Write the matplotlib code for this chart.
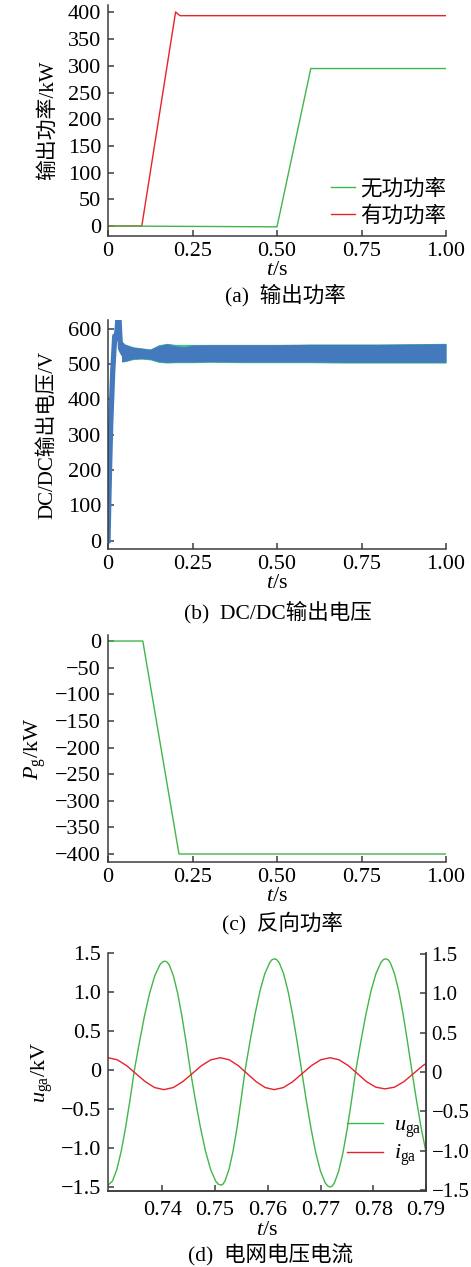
import matplotlib
matplotlib.use("Agg")
from matplotlib import pyplot as plt
from matplotlib.lines import Line2D

plt.rcParams['font.family'] = ['Liberation Serif', 'Noto Sans CJK SC']
plt.rcParams['mathtext.fontset'] = 'custom'
plt.rcParams['mathtext.rm'] = 'Liberation Serif'
plt.rcParams['mathtext.it'] = 'Liberation Serif:italic'

GREEN = '#41b649'
RED = '#e8212b'
BLUE = '#4479bd'
AXC = '#3c3c3c'
FS = 16

# (a) output power
q_t = [0, 0.50, 0.60, 1.00]
q_kw = [0, -1.5, 295, 295]
p_t = [0, 0.10, 0.200, 0.213, 1.00]
p_kw = [0, 0, 401, 394, 394]

# (b) DC/DC output voltage: start-up transient and the ripple band
dc_t = [0, 0.004, 0.008, 0.014, 0.020, 0.024, 0.028, 0.031, 0.034, 0.037, 0.040, 0.045]
dc_v = [0, 180, 330, 480, 580, 572, 610, 660, 600, 545, 538, 530]
band_t = [0.040, 0.05, 0.075, 0.10, 0.125, 0.15, 0.175, 0.20, 0.225, 0.25, 0.30,
          0.40, 0.50, 0.60, 0.70, 0.80, 0.90, 1.00]
band_hi = [566, 556, 548, 545, 542, 553, 558, 552, 549, 554, 555, 555, 555, 556, 556, 556, 557, 558]
band_lo = [507, 508, 515, 516, 514, 507, 505, 506, 506, 506, 507, 506, 506, 506, 505, 505, 505, 505]
fringe_hi = [566, 557, 549, 546, 543, 555, 559, 556, 556, 556, 556, 556, 556, 557, 557, 557, 558, 559]
fringe_lo = [506, 507, 513, 514, 512, 505, 503, 504, 504, 504, 505, 504, 504, 504, 503, 503, 503, 503]

# (c) reverse power
pg_t = [0, 0.103, 0.210, 1.00]
pg_kw = [0, 0, -400, -400]

# (d) grid voltage / current
u_t = [0.7297, 0.73053, 0.73137, 0.7322, 0.73303, 0.73387, 0.7347,
       0.73567, 0.73663, 0.7376, 0.73857, 0.73953, 0.7400, 0.7405,
       0.7409, 0.7413, 0.7421, 0.7429, 0.7437, 0.7445, 0.7453,
       0.74627, 0.74723, 0.7482, 0.74917, 0.75013, 0.7506, 0.7511,
       0.7515, 0.75187, 0.75263, 0.7534, 0.75417, 0.75493, 0.7557,
       0.75663, 0.75757, 0.7585, 0.75943, 0.76037, 0.7608, 0.7613,
       0.7617, 0.76215, 0.763, 0.76385, 0.7647, 0.76555, 0.7664,
       0.7673, 0.7682, 0.7691, 0.7700, 0.7709, 0.7714, 0.7718,
       0.7722, 0.77262, 0.77343, 0.77425, 0.77507, 0.77588, 0.7767,
       0.77765, 0.7786, 0.77955, 0.7805, 0.78145, 0.7819, 0.7824,
       0.7828, 0.78322, 0.78403, 0.78485, 0.78567, 0.78648, 0.7873,
       0.7882, 0.7891, 0.7900]
u_kv = [-1.475, -1.425, -1.277, -1.043, -0.738, -0.382, 0,
        0.363, 0.70, 0.99, 1.212, 1.352, 1.388, 1.40,
        1.388, 1.352, 1.212, 0.99, 0.70, 0.363, 0,
        -0.382, -0.738, -1.043, -1.277, -1.425, -1.463, -1.475,
        -1.463, -1.425, -1.277, -1.043, -0.738, -0.382, 0,
        0.370, 0.715, 1.011, 1.238, 1.381, 1.418, 1.43,
        1.418, 1.381, 1.238, 1.011, 0.715, 0.370, 0,
        -0.388, -0.75, -1.061, -1.299, -1.449, -1.488, -1.50,
        -1.488, -1.449, -1.299, -1.061, -0.75, -0.388, 0,
        0.370, 0.715, 1.011, 1.238, 1.381, 1.418, 1.43,
        1.418, 1.381, 1.238, 1.011, 0.715, 0.370, 0,
        -0.388, -0.75, -1.05]
i_t = [0.7297, 0.73147, 0.73323, 0.7350, 0.73677, 0.73853, 0.7403,
       0.74208, 0.74387, 0.74565, 0.74743, 0.74922, 0.7510,
       0.7527, 0.7544, 0.7561, 0.7578, 0.7595, 0.7612,
       0.76297, 0.76473, 0.7665, 0.76827, 0.77003, 0.7718,
       0.77353, 0.77527, 0.7770, 0.77873, 0.78047, 0.7822,
       0.7840, 0.7858, 0.7876, 0.7894, 0.7900]
i_ka = [0.16, 0.133, 0.058, -0.045, -0.148, -0.223, -0.25,
        -0.223, -0.148, -0.045, 0.058, 0.133, 0.16,
        0.133, 0.058, -0.045, -0.148, -0.223, -0.25,
        -0.223, -0.148, -0.045, 0.058, 0.133, 0.16,
        0.133, 0.058, -0.045, -0.148, -0.218, -0.24,
        -0.219, -0.148, -0.045, 0.058, 0.085]

t_ticks = [0, 0.25, 0.50, 0.75, 1.00]
t_labels = ['0', '0.25', '0.50', '0.75', '1.00']
d_ticks = [0.74, 0.75, 0.76, 0.77, 0.78, 0.79]
d_yticks = [-1.5, -1.0, -0.5, 0, 0.5, 1.0, 1.5]
d_ylabels = ['\u22121.5', '\u22121.0', '\u22120.5', '0', '0.5', '1.0', '1.5']

W, H = 471, 1267
fig = plt.figure(figsize=(W / 100, H / 100), dpi=100)


def box(l, t, r, b):
    return [l / W, 1 - b / H, (r - l) / W, (b - t) / H]


def style(ax, right=False):
    ax.spines['top'].set_visible(False)
    ax.spines['right'].set_visible(right)
    for s in ax.spines.values():
        s.set_linewidth(1.1)
        s.set_color(AXC)
    ax.tick_params(direction='in', length=4, width=1.1, color=AXC,
                   labelsize=FS, pad=5)
    ax.tick_params(axis='x', pad=4)


# (a)
ax = fig.add_axes(box(108, 5, 446, 236))
style(ax)
ax.plot(p_t, p_kw, color=RED, lw=1.0)
ax.plot(q_t, q_kw, color=GREEN, lw=1.0)
ax.set_xlim(0, 1.0)
ax.set_ylim(-18.7, 414)
ax.set_xticks(t_ticks, t_labels)
ax.set_yticks(range(0, 401, 50))
ax.set_xlabel('$t$/s', fontsize=FS, labelpad=0)
ax.set_ylabel('输出功率/kW', fontsize=15)
ax.yaxis.set_label_coords(-0.148, 0.5)
hs = [Line2D([], [], color=GREEN, lw=1.0), Line2D([], [], color=RED, lw=1.0)]
ax.legend(hs, ['无功功率', '有功功率'], loc='lower right', frameon=False,
          fontsize=15.5, handlelength=1.1, handletextpad=0.25, labelspacing=0.3,
          borderpad=0, borderaxespad=0.0, bbox_to_anchor=(1.0, 0.04))
fig.text(285 / W, 1 - 295 / H, '(a)  输出功率', ha='center', va='center', fontsize=15.5)

# (b)
ax = fig.add_axes(box(108, 320, 446, 549))
style(ax)
ax.fill_between(band_t, fringe_lo, fringe_hi, color='#40bf95', lw=0)
ax.fill_between(band_t, band_lo, band_hi, color=BLUE, lw=0)
ax.plot(dc_t, dc_v, color=BLUE, lw=3.8, solid_joinstyle='round')
ax.set_xlim(0, 1.0)
ax.set_ylim(-23.6, 625)
ax.set_xticks(t_ticks, t_labels)
ax.set_yticks(range(0, 601, 100))
ax.set_xlabel('$t$/s', fontsize=FS, labelpad=0)
ax.set_ylabel('DC/DC输出电压/V', fontsize=15)
ax.yaxis.set_label_coords(-0.151, 0.5)
fig.text(278 / W, 1 - 612 / H, '(b)  DC/DC输出电压', ha='center', va='center', fontsize=15.5)

# (c)
ax = fig.add_axes(box(108, 635, 446, 862))
style(ax)
ax.plot(pg_t, pg_kw, color=GREEN, lw=1.0)
ax.set_xlim(0, 1.0)
ax.set_ylim(-415, 11.3)
ax.set_xticks(t_ticks, t_labels)
ax.set_yticks(range(-400, 1, 50))
ax.set_xlabel('$t$/s', fontsize=FS, labelpad=0)
ax.set_ylabel('$P_{\\rm g}$/kW', fontsize=FS)
ax.yaxis.set_label_coords(-0.178, 0.5)
fig.text(282 / W, 1 - 923 / H, '(c)  反向功率', ha='center', va='center', fontsize=15.5)

# (d)
ax = fig.add_axes(box(108, 953, 426, 1191))
style(ax, right=True)
ax.tick_params(axis='x', pad=7)
ax.plot(u_t, u_kv, color=GREEN, lw=1.0)
ax.plot(i_t, i_ka, color=RED, lw=1.0)
ax.set_xlim(0.7297, 0.79)
ax.set_ylim(-1.551, 1.504)
ax.set_xticks(d_ticks, ['%.2f' % v for v in d_ticks])
ax.set_yticks(d_yticks, d_ylabels)
ax.set_xlabel('$t$/s', fontsize=FS, labelpad=1)
ax.set_ylabel('$u_{\\rm ga}$/kV', fontsize=FS)
ax.yaxis.set_label_coords(-0.167, 0.5)
hs = [Line2D([], [], color=GREEN, lw=1.0), Line2D([], [], color=RED, lw=1.0)]
ax.legend(hs, ['$u_{\\rm ga}$', '$i_{\\rm ga}$'], loc='lower right', frameon=False,
          fontsize=16, handlelength=1.6, handletextpad=0.5, labelspacing=0.15,
          borderpad=0, borderaxespad=0.0, bbox_to_anchor=(0.985, 0.095))
ax2 = ax.twinx()
style(ax2, right=True)
ax2.spines['left'].set_visible(False)
ax2.tick_params(axis='y', labelsize=15, pad=4)
ax2.set_ylim(-1.513, 1.513)
ax2.set_yticks(d_yticks, d_ylabels)
fig.text(270 / W, 1 - 1254 / H, '(d)  电网电压电流', ha='center', va='center', fontsize=15.5)

fig.savefig('out.png', dpi=100)
